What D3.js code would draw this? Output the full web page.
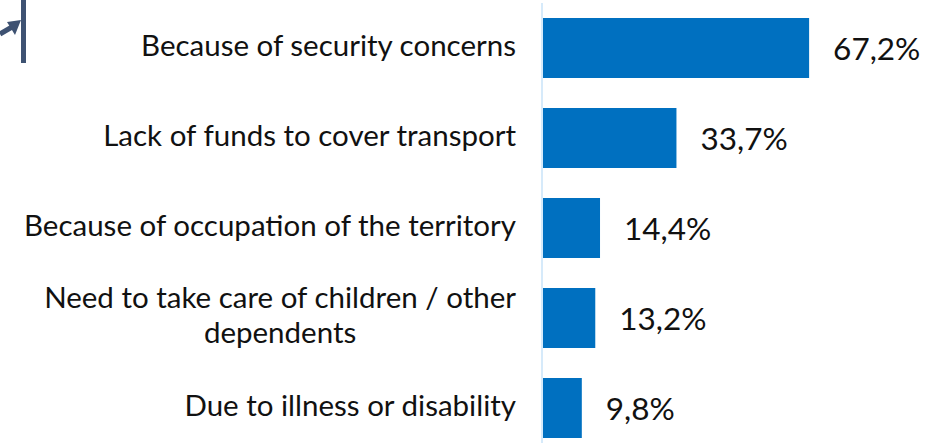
<!DOCTYPE html>
<html>
<head>
<meta charset="utf-8">
<script src="https://cdn.jsdelivr.net/npm/d3@7"></script>
<style>
  html, body { margin: 0; padding: 0; background: #ffffff; }
  svg { display: block; }
  text { font-family: Lato, "Open Sans", sans-serif; fill: #111111; }
</style>
</head>
<body>
<svg id="chart" width="950" height="443"></svg>
<script>
// Reasons for not returning home (share of respondents, %)
const categories = [
  ["Because of security concerns"],
  ["Lack of funds to cover transport"],
  ["Because of occupation of the territory"],
  ["Need to take care of children / other", "dependents"],
  ["Due to illness or disability"]
];
const values = [67.2, 33.7, 14.4, 13.2, 9.8];
const valueLabels = ["67,2%", "33,7%", "14,4%", "13,2%", "9,8%"];

const svg = d3.select("#chart");
const axisX = 543;
const labelRight = 516;
const catFont = 29.5;
const valFont = 31.5;

const x = d3.scaleLinear().domain([0, 100]).range([axisX, axisX + 396]);
const y = d3.scaleBand()
  .domain(d3.range(values.length))
  .range([3, 453])
  .paddingInner(1 / 3)
  .paddingOuter(1 / 6);

// Decorative corner mark (vertical rule + arrow)
const deco = svg.append("g").attr("fill", "none").attr("stroke", "#3e5272");
deco.append("line").attr("x1", 23.5).attr("x2", 23.5).attr("y1", 0).attr("y2", 63).attr("stroke-width", 5);
deco.append("path").attr("d", "M0,34 L12,27").attr("stroke-width", 5);
svg.append("path").attr("d", "M21,20 L7,22 L15,35 Z").attr("fill", "#3e5272");

// Bars
svg.append("g").selectAll("rect")
  .data(values)
  .join("rect")
  .attr("x", x(0))
  .attr("y", (d, i) => y(i))
  .attr("width", d => x(d) - x(0))
  .attr("height", y.bandwidth())
  .attr("fill", "#0070c0");

// Category axis line
svg.append("line")
  .attr("x1", axisX - 1).attr("x2", axisX - 1)
  .attr("y1", 3).attr("y2", 443)
  .attr("stroke", "#d6eafa").attr("stroke-width", 2);

// Value labels
svg.append("g").selectAll("text")
  .data(values)
  .join("text")
  .attr("x", d => x(d) + 24)
  .attr("y", (d, i) => y(i) + y.bandwidth() / 2)
  .attr("dy", "0.37em")
  .attr("font-size", valFont)
  .text((d, i) => valueLabels[i]);

// Category labels (multi-line labels are centred on their widest line)
const lineH = 35;
categories.forEach((lines, i) => {
  const cy = y(i) + y.bandwidth() / 2;
  const g = svg.append("g");
  const first = g.append("text")
    .attr("x", labelRight)
    .attr("y", cy - (lines.length - 1) * lineH / 2)
    .attr("dy", "0.27em")
    .attr("font-size", catFont)
    .attr("text-anchor", "end")
    .text(lines[0]);
  if (lines.length > 1) {
    const w = first.node().getComputedTextLength();
    const mid = labelRight - w / 2;
    lines.slice(1).forEach((t, k) => {
      g.append("text")
        .attr("x", mid)
        .attr("y", cy - (lines.length - 1) * lineH / 2 + (k + 1) * lineH)
        .attr("dy", "0.27em")
        .attr("font-size", catFont)
        .attr("text-anchor", "middle")
        .text(t);
    });
  }
});
</script>
</body>
</html>
